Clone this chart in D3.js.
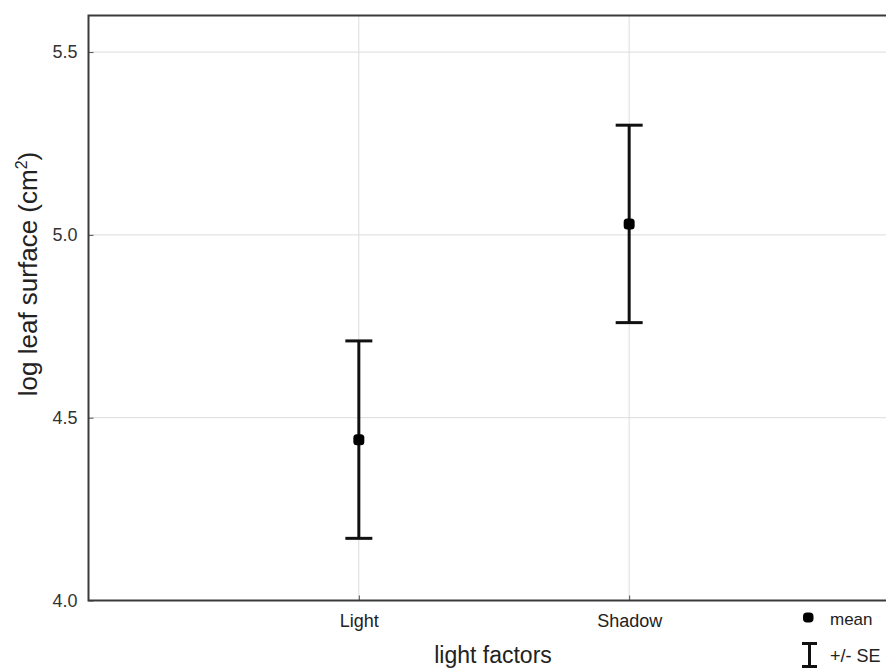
<!DOCTYPE html>
<html><head><meta charset="utf-8">
<script src="https://cdn.jsdelivr.net/npm/d3@7"></script>
<style>html,body{margin:0;padding:0;background:#fff;overflow:hidden}</style>
</head><body>
<script>
const categories = ["Light", "Shadow"];
const means = [4.44, 5.03];
const upper = [4.71, 5.30];
const lower = [4.17, 4.76];
const yTicks = [4.0, 4.5, 5.0, 5.5];
const yDomain = [4.0, 5.6];
const xLabel = "light factors";

(function () {
const W = 886, H = 671;
const svg = d3.select("body").append("svg").attr("width", W).attr("height", H)
  .style("font-family", "Arial, 'Liberation Sans', sans-serif");

const pL = 88.5, pT = 15.5, pB = 600.5, pR = 899.5;
const x = d3.scalePoint().domain(["", ...categories, " "]).range([pL, pR]);
const y = d3.scaleLinear().domain(yDomain).range([pB, pT]);

// gridlines
svg.append("g").selectAll("line").data(yTicks.filter(t => t > yDomain[0])).join("line")
  .attr("x1", pL).attr("x2", pR).attr("y1", d => y(d)).attr("y2", d => y(d))
  .attr("stroke", "#dcdcdc").attr("stroke-width", 1);
svg.append("g").selectAll("line").data(categories).join("line")
  .attr("x1", d => x(d)).attr("x2", d => x(d)).attr("y1", pT).attr("y2", pB)
  .attr("stroke", "#dcdcdc").attr("stroke-width", 1);

// axes
const yAxis = d3.axisLeft(y).tickValues(yTicks).tickFormat(d3.format(".1f")).tickSizeInner(-5).tickSizeOuter(0).tickPadding(11);
const gy = svg.append("g").attr("transform", `translate(${pL},0)`).call(yAxis);
gy.select(".domain").remove();
gy.selectAll(".tick line").attr("stroke", "#555");
gy.selectAll("text").attr("font-size", 18).attr("fill", "#333");

const xAxis = d3.axisBottom(x).tickValues(categories).tickSizeInner(-5).tickSizeOuter(0).tickPadding(14);
const gx = svg.append("g").attr("transform", `translate(0,${pB})`).call(xAxis);
gx.select(".domain").remove();
gx.selectAll(".tick line").attr("stroke", "#555");
gx.selectAll("text").attr("font-size", 18).attr("fill", "#222");

// frame
svg.append("path").attr("d", `M${pR},${pT}H${pL}V${pB}H${pR}`)
  .attr("fill", "none").attr("stroke", "#3a3a3a").attr("stroke-width", 2);

// error bars
const data = categories.map((c, i) => ({c, m: means[i], hi: upper[i], lo: lower[i]}));
const g = svg.append("g");
const cap = 13.5;
g.selectAll("line.v").data(data).join("line").attr("class", "v")
  .attr("x1", d => x(d.c)).attr("x2", d => x(d.c)).attr("y1", d => y(d.hi)).attr("y2", d => y(d.lo))
  .attr("stroke", "#111").attr("stroke-width", 3);
g.selectAll("line.t").data(data).join("line").attr("class", "t")
  .attr("x1", d => x(d.c) - cap).attr("x2", d => x(d.c) + cap).attr("y1", d => y(d.hi)).attr("y2", d => y(d.hi))
  .attr("stroke", "#111").attr("stroke-width", 3);
g.selectAll("line.b").data(data).join("line").attr("class", "b")
  .attr("x1", d => x(d.c) - cap).attr("x2", d => x(d.c) + cap).attr("y1", d => y(d.lo)).attr("y2", d => y(d.lo))
  .attr("stroke", "#111").attr("stroke-width", 3);
g.selectAll("rect").data(data).join("rect")
  .attr("x", d => x(d.c) - 5.5).attr("y", d => y(d.m) - 5.5).attr("width", 11).attr("height", 11)
  .attr("rx", 3.5).attr("fill", "#000");

// axis labels
svg.append("text").attr("transform", `translate(37,274) rotate(-90)`).attr("text-anchor", "middle")
  .attr("font-size", 26).attr("fill", "#222").html('log leaf surface (cm<tspan dy="-10" font-size="16">2</tspan><tspan dy="10">)</tspan>');
svg.append("text").attr("x", 493).attr("y", 663).attr("text-anchor", "middle")
  .attr("font-size", 23).attr("fill", "#222").text(xLabel);

// legend
const lg = svg.append("g");
lg.append("rect").attr("x", 803).attr("y", 612.5).attr("width", 10.5).attr("height", 10).attr("rx", 4).attr("fill", "#000");
lg.append("text").attr("x", 830).attr("y", 625).attr("font-size", 17).attr("fill", "#222").text("mean");
lg.append("path").attr("d", "M802,643.5H817M809.5,643.5V666.5M802,666.5H817").attr("stroke", "#111").attr("stroke-width", 3).attr("fill", "none");
lg.append("text").attr("x", 830).attr("y", 662).attr("font-size", 18).attr("fill", "#222").text("+/- SE");
})();
</script>
</body></html>
